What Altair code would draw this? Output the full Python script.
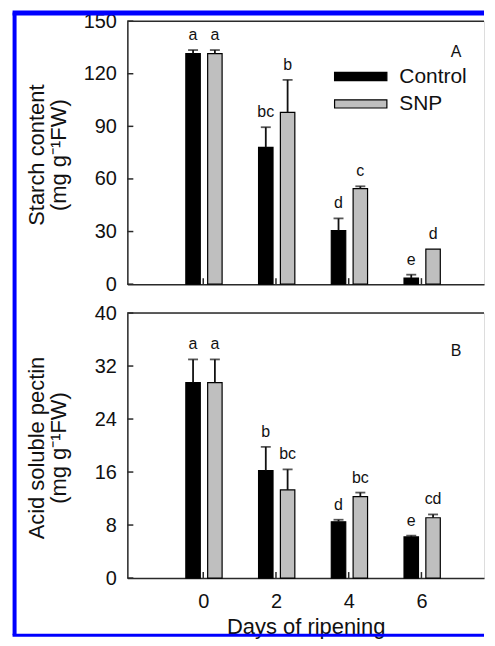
import altair as alt
import pandas as pd

# ---------------- data ----------------
days = [0, 2, 4, 6]
treatments = ["Control", "SNP"]

starch_control = [131.5, 78.0, 30.5, 3.5]
starch_control_err = [2.0, 11.5, 7.0, 1.9]
starch_snp = [131.5, 98.0, 54.5, 20.0]
starch_snp_err = [2.0, 18.5, 1.3, 0.0]
starch_letters_control = ["a", "bc", "d", "e"]
starch_letters_snp = ["a", "b", "c", "d"]

pectin_control = [29.5, 16.2, 8.5, 6.2]
pectin_control_err = [3.5, 3.6, 0.3, 0.2]
pectin_snp = [29.5, 13.3, 12.3, 9.1]
pectin_snp_err = [3.5, 3.1, 0.6, 0.5]
pectin_letters_control = ["a", "b", "d", "e"]
pectin_letters_snp = ["a", "bc", "bc", "cd"]

starch_ticks = [0, 30, 60, 90, 120, 150]
pectin_ticks = [0, 8, 16, 24, 32, 40]
x_ticks = [0, 2, 4, 6]

# ---------------- layout / style ----------------
FONT = "Liberation Sans"
W = 358
H1 = 264
H2 = 266
GAP = 29
XDOM = [-1.95, -1.95 + W / 37.55]
OFFSET = {"Control": -0.28, "SNP": 0.32}
AX = "#2a2a2a"
GREY = "#bfbfbf"
BLUE = "#0000ff"
COLORS = ["#000000", GREY]


def frame(ctrl, ctrl_err, snp, snp_err, lc, ls):
    rows = []
    for i, d in enumerate(days):
        for g, v, e, l in (("Control", ctrl[i], ctrl_err[i], lc[i]),
                           ("SNP", snp[i], snp_err[i], ls[i])):
            rows.append(dict(day=d, group=g, pos=d + OFFSET[g], value=v,
                             err=e, top=v + e, letter=l))
    return pd.DataFrame(rows)


def panel(df, ymax, yticks, title_lines, tag, H, bottom, extras):
    xscale = alt.Scale(domain=XDOM, nice=False, zero=False)
    yscale = alt.Scale(domain=[0, ymax], nice=False)
    if bottom:
        xaxis = alt.Axis(values=x_ticks, ticks=False, tickSize=0, labelPadding=14,
                         labelFontSize=20, labelFont=FONT, labelColor="#111",
                         title="Days of ripening", titleFontSize=22, titleFont=FONT,
                         titleFontWeight="normal", titleColor="#111",
                         titleBaseline="alphabetic", titleY=55.5,
                         domainColor=AX, domainWidth=1.5, grid=False)
    else:
        xaxis = alt.Axis(values=x_ticks, ticks=False, tickSize=0, labels=False,
                         title=None, domainColor=AX, domainWidth=1.5, grid=False)
    yaxis = alt.Axis(values=yticks, ticks=False, tickSize=0, labelPadding=11,
                     labelFontSize=20, labelFont=FONT, labelColor="#111",
                     title=title_lines, titleFontSize=22, titleFont=FONT,
                     titleFontWeight="normal", titleColor="#111",
                     titleX=-91, titleY=H / 2 + 2, titleBaseline="middle",
                     titleLineHeight=22, domainColor=AX, domainWidth=1.5, grid=False)

    X = lambda f: alt.X(f, scale=xscale, axis=xaxis)
    Y = lambda f: alt.Y(f, scale=yscale, axis=yaxis)

    bars = alt.Chart(df).mark_bar(size=14.5, stroke="black", strokeWidth=1.2, opacity=1).encode(
        x=X("pos:Q"),
        y=Y("value:Q"),
        color=alt.Color("group:N", scale=alt.Scale(domain=treatments, range=COLORS),
                        legend=None),
    )
    err_df = alt.Chart(df).transform_filter("datum.err > 0")
    err = err_df.mark_rule(color="#111", strokeWidth=1.8).encode(
        x=X("pos:Q"), y=Y("value:Q"), y2="top:Q",
    )
    caps = err_df.mark_tick(orient="horizontal", size=10, thickness=1.8, color="#111").encode(
        x=X("pos:Q"), y=Y("top:Q"),
    )
    letters = alt.Chart(df).mark_text(baseline="bottom", dy=-7, fontSize=16, font=FONT,
                                      color="#111").encode(
        x=X("pos:Q"), y=Y("top:Q"), text="letter:N",
    )
    yt = alt.Chart(pd.DataFrame({"t": yticks})).mark_rule(color=AX, strokeWidth=1.5).encode(
        y=Y("t:Q"), x=alt.value(0), x2=alt.value(6),
    )
    xt = alt.Chart(pd.DataFrame({"d": x_ticks})).mark_rule(color=AX, strokeWidth=1.5).encode(
        x=X("d:Q"), y=alt.value(H), y2=alt.value(H - 6),
    )
    one = alt.Chart(pd.DataFrame({"tag": [tag]}))
    topline = one.mark_rule(color=AX, strokeWidth=1.5).encode(
        x=alt.value(0), x2=alt.value(W), y=alt.value(0))
    label = one.mark_text(fontSize=16, font=FONT, color="#111").encode(
        x=alt.value(330), y=alt.value(31 if tag == "A" else 38), text="tag:N")
    layers = [bars, err, caps, letters, yt, xt, topline, label]
    for ex in extras:
        layers.append(ex)
    return alt.layer(*layers).properties(width=W, height=H)


one_row = pd.DataFrame({"k": [1]})
base = alt.Chart(one_row)

# manual legend (top panel)
legend_layers = []
for i, g in enumerate(treatments):
    y0 = 51.5 + 27.5 * i
    legend_layers.append(base.mark_rect(fill=COLORS[i], stroke="black", strokeWidth=1.2).encode(
        x=alt.value(208), x2=alt.value(260.5), y=alt.value(y0), y2=alt.value(y0 + 8.2)))
    legend_layers.append(base.mark_text(align="left", baseline="middle", fontSize=21,
                                        font=FONT, color="#111").encode(
        x=alt.value(273), y=alt.value(y0 + 4.5), text=alt.value(g)))

# blue frame around the figure
blue_top = base.mark_rule(color=BLUE, strokeWidth=5, clip=False).encode(
    x=alt.value(-115.2), x2=alt.value(W), y=alt.value(-8.2))
blue_left = base.mark_rule(color=BLUE, strokeWidth=4, clip=False).encode(
    x=alt.value(-113.2), y=alt.value(-8.7 - H1 - GAP), y2=alt.value(H2 + 57.5))
blue_bottom = base.mark_rule(color=BLUE, strokeWidth=3, clip=False).encode(
    x=alt.value(-115.2), x2=alt.value(W), y=alt.value(H2 + 57.5))

top = panel(frame(starch_control, starch_control_err, starch_snp, starch_snp_err,
                  starch_letters_control, starch_letters_snp),
            150, starch_ticks, ["Starch content", "(mg g⁻¹FW)"], "A", H1, False,
            legend_layers + [blue_top])
bottom = panel(frame(pectin_control, pectin_control_err, pectin_snp, pectin_snp_err,
                     pectin_letters_control, pectin_letters_snp),
               40, pectin_ticks, ["Acid soluble pectin", "(mg g⁻¹FW)"], "B", H2, True,
               [blue_left, blue_bottom])

chart = alt.vconcat(top, bottom, spacing=GAP, bounds="flush").properties(
    padding={"left": 0.8, "top": 0, "right": 0, "bottom": 0}
).configure_view(stroke=None).configure(font=FONT, background="white")

chart.save("out.html", embed_options={"renderer": "svg", "actions": False})
